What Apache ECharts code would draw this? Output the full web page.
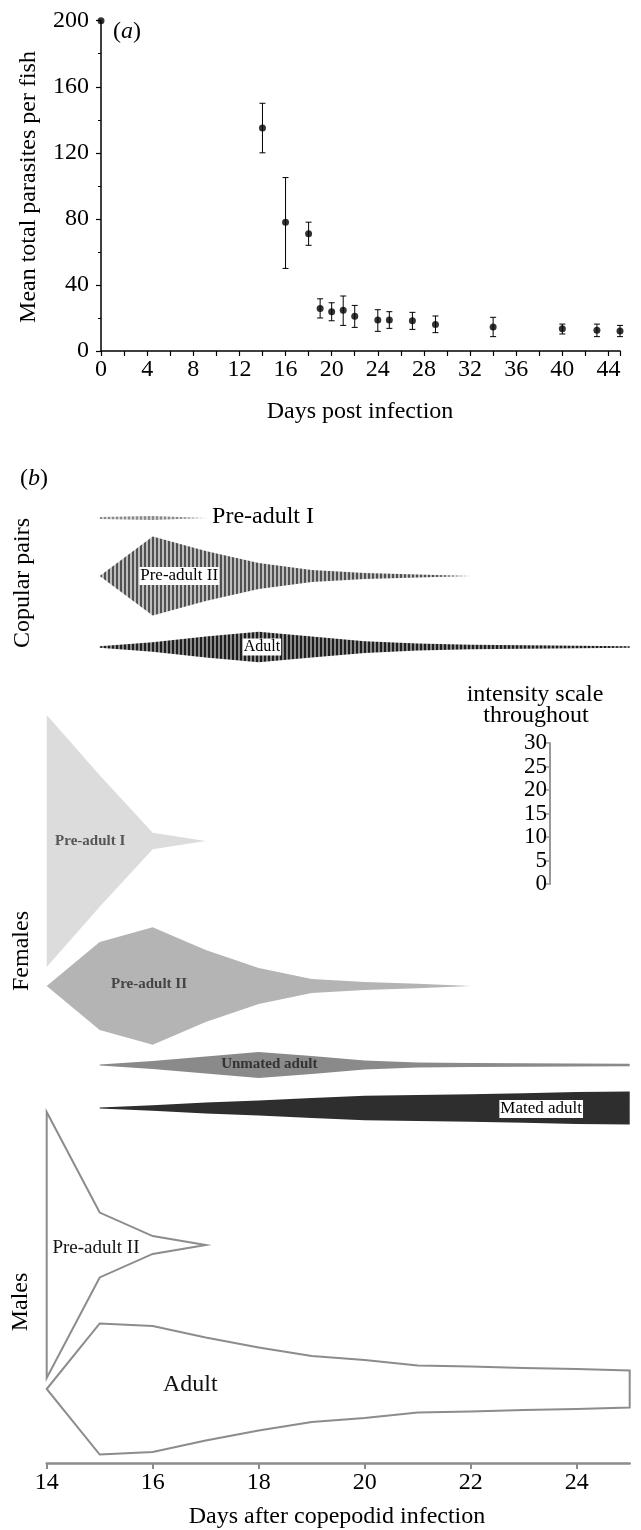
<!DOCTYPE html>
<html><head><meta charset="utf-8">
<script src="https://cdn.jsdelivr.net/npm/echarts@6/dist/echarts.min.js"></script>
<style>html,body{margin:0;padding:0;background:#fff}#c{width:641px;height:1530px}</style>
</head><body><div id="c"></div>
<script>
// ---------- Panel (a) data ----------
const daysA  = [0, 14, 16, 18, 19, 20, 21, 22, 24, 25, 27, 29, 34, 40, 43, 45];
const meanA  = [200, 135, 78, 71, 25.8, 23.8, 24.6, 21, 18.8, 18.8, 18.3, 16.1, 14.5, 13.5, 12.5, 12.1];
const lowA   = [null, 120, 50, 64, 20, 18.3, 15.5, 14.3, 11.9, 13.7, 13.1, 11.1, 8.7, 10.3, 8.7, 8.7];
const highA  = [null, 150, 105, 78, 31.6, 29.2, 33.3, 27.6, 25, 23.8, 23.4, 21.2, 20.4, 16.3, 16.3, 15.5];
const xLabelsA = [0, 4, 8, 12, 16, 20, 24, 28, 32, 36, 40, 44];
const yLabelsA = [0, 40, 80, 120, 160, 200];

// ---------- Panel (b) data (kite widths, intensity) ----------
const daysB      = [14, 15, 16, 17, 18, 19, 20, 21, 22, 23, 24, 25];
const copPreI    = [null, 0.4, 0.8, 0, null, null, null, null, null, null, null, null];
const copPreII   = [null, 0, 16.8, 10.6, 5.5, 2.6, 1.3, 0.6, 0, null, null, null];
const copAdult   = [null, 0.3, 2, 4.5, 6.5, 4.5, 2.5, 1.5, 1, 0.7, 0.5, 0.3];
const femPreI    = [53.6, 28, 3.5, 0, null, null, null, null, null, null, null, null];
const femPreII   = [0, 18.7, 25, 15.3, 7.7, 3, 1.7, 1, 0, null, null, null];
const femUnmated = [null, 0.2, 1.7, 3.6, 5.5, 3.8, 1.9, 1.1, 0.85, 0.75, 0.65, 0.5];
const femMated   = [null, 0.2, 1.2, 2.3, 3.2, 4.3, 5.2, 5.5, 5.8, 6.3, 6.8, 7.0];
const malePreII  = [56.6, 13.8, 3.8, 0, null, null, null, null, null, null, null, null];
const maleAdult  = [0, 27.9, 26.8, 21.9, 17.7, 14, 12.3, 10, 9.6, 8.9, 8.5, 7.9];
const xLabelsB   = [14, 16, 18, 20, 22, 24];
const scaleTicks = [0, 5, 10, 15, 20, 25, 30];

// ---------- layout ----------
const FONT = "'Liberation Serif', 'DejaVu Serif', serif";
const P = 4.7; // px per intensity unit
const gA = {left: 101, top: 20.7, width: 519, height: 330.3};
const gB = {left: 46.7, top: 500, width: 583, height: 963};
const gS = {left: 550, top: 743, width: 10, height: 30 * P};
const toU = px => (px - gB.top) / P;

function stripes(dark, light) {
  const c = document.createElement('canvas');
  c.width = 4; c.height = 4;
  const x = c.getContext('2d');
  x.fillStyle = light; x.fillRect(0, 0, 4, 4);
  x.fillStyle = dark; x.fillRect(0, 0, 2, 4);
  return {image: c, repeat: 'repeat'};
}
const stripeMid = stripes('#505050', '#bdbdbd');
const stripeDark = stripes('#1e1e1e', '#8a8a8a');
const stripeLight = stripes('#8a8a8a', '#d0d0d0');

const kites = [
  {vals: copPreI, cy: 518, fill: stripeLight, label: 'Pre-adult I', lx: 17.12, ly: 517, font: '24px ' + FONT, align: 'left'},
  {vals: copPreII, cy: 576, fill: stripeMid, label: 'Pre-adult II', lx: 16.5, ly: 576, font: '17px ' + FONT, box: true},
  {vals: copAdult, cy: 647, fill: stripeDark, label: 'Adult', lx: 18.06, ly: 647, font: '16px ' + FONT, box: true},
  {vals: femPreI, cy: 841, fill: '#dcdcdc', label: 'Pre-adult I', lx: 14.82, ly: 841, font: 'bold 15px ' + FONT, color: '#555'},
  {vals: femPreII, cy: 986, fill: '#b4b4b4', label: 'Pre-adult II', lx: 15.93, ly: 984, font: 'bold 15px ' + FONT, color: '#444'},
  {vals: femUnmated, cy: 1065, fill: '#8a8a8a', label: 'Unmated adult', lx: 18.2, ly: 1064, font: 'bold 15px ' + FONT, color: '#333'},
  {vals: femMated, cy: 1108, fill: '#2e2e2e', label: 'Mated adult', lx: 23.33, ly: 1109, font: '17px ' + FONT, box: true},
  {vals: malePreII, cy: 1245, fill: 'rgba(0,0,0,0)', stroke: '#8c8c8c', lw: 2, label: 'Pre-adult II', lx: 14.93, ly: 1248, font: '19px ' + FONT, color: '#111'},
  {vals: maleAdult, cy: 1389, fill: 'rgba(0,0,0,0)', stroke: '#8c8c8c', lw: 2, label: 'Adult', lx: 16.71, ly: 1385, font: '24px ' + FONT, color: '#111'}
];

function kiteRender(k) {
  return function (params, api) {
    const c = toU(k.cy);
    const up = [], lo = [];
    daysB.forEach((d, i) => {
      const v = k.vals[i];
      if (v == null) return;
      up.push(api.coord([d, c - v / 2]));
      lo.push(api.coord([d, c + v / 2]));
    });
    const pts = up.concat(lo.reverse());
    const children = [{
      type: 'polygon', shape: {points: pts},
      style: {fill: k.fill, stroke: k.stroke || null, lineWidth: k.lw || 0, lineJoin: 'miter'}
    }];
    if (k.label) {
      const p = api.coord([k.lx, toU(k.ly)]);
      children.push({
        type: 'text', x: p[0], y: p[1],
        style: {
          text: k.label, fill: k.color || '#000', font: k.font,
          align: k.align || 'center', verticalAlign: 'middle',
          backgroundColor: k.box ? '#fff' : null, padding: k.box ? [1, 1, 0, 1] : 0
        }
      });
    }
    return {type: 'group', children};
  };
}

const chart = echarts.init(document.getElementById('c'), null, {renderer: 'canvas'});

const tickFont = {fontFamily: FONT, fontSize: 24, color: '#000'};

const series = [];
// error bars
series.push({
  type: 'custom', xAxisIndex: 0, yAxisIndex: 0, silent: true,
  data: daysA.map((d, i) => lowA[i] == null ? null : [d, lowA[i], highA[i]]).filter(Boolean),
  renderItem: (params, api) => {
    const x = api.value(0);
    const a = api.coord([x, api.value(1)]), b = api.coord([x, api.value(2)]);
    const w = 3, st = {stroke: '#000', lineWidth: 1};
    return {type: 'group', children: [
      {type: 'line', shape: {x1: a[0], y1: a[1], x2: b[0], y2: b[1]}, style: st},
      {type: 'line', shape: {x1: a[0] - w, y1: a[1], x2: a[0] + w, y2: a[1]}, style: st},
      {type: 'line', shape: {x1: b[0] - w, y1: b[1], x2: b[0] + w, y2: b[1]}, style: st}
    ]};
  }
});
series.push({
  type: 'scatter', xAxisIndex: 0, yAxisIndex: 0, symbol: 'circle', symbolSize: 7,
  itemStyle: {color: '#000'}, silent: true,
  data: daysA.map((d, i) => [d, meanA[i]])
});
kites.forEach(k => series.push({
  type: 'custom', xAxisIndex: 1, yAxisIndex: 1, silent: true, clip: false,
  data: [[14, 0]], renderItem: kiteRender(k)
}));
series.push({type: 'scatter', xAxisIndex: 2, yAxisIndex: 2, data: []});

const option = {
  animation: false,
  backgroundColor: '#fff',
  grid: [
    {left: gA.left, top: gA.top, width: gA.width, height: gA.height},
    {left: gB.left, top: gB.top, width: gB.width, height: gB.height},
    {left: gS.left, top: gS.top, width: gS.width, height: gS.height}
  ],
  xAxis: [
    {gridIndex: 0, type: 'value', min: 0, max: 45, interval: 2,
     axisLine: {onZero: false, lineStyle: {color: '#000', width: 1.5}},
     axisTick: {length: 5, lineStyle: {color: '#000', width: 1.2}},
     axisLabel: Object.assign({margin: 7, formatter: v => xLabelsA.includes(v) ? String(v) : ''}, tickFont),
     splitLine: {show: false}},
    {gridIndex: 1, type: 'value', min: 14, max: 25, interval: 2, position: 'bottom',
     axisLine: {onZero: false, lineStyle: {color: '#8c8c8c', width: 2.5}},
     axisTick: {length: 6, lineStyle: {color: '#8c8c8c', width: 2}},
     axisLabel: Object.assign({margin: 8, showMaxLabel: false, formatter: v => xLabelsB.includes(v) ? String(v) : ''}, tickFont),
     splitLine: {show: false}},
    {gridIndex: 2, type: 'value', show: false}
  ],
  yAxis: [
    {gridIndex: 0, type: 'value', min: 0, max: 200, interval: 40,
     axisLine: {show: true, onZero: false, lineStyle: {color: '#000', width: 1.5}},
     axisTick: {show: true, length: 5, lineStyle: {color: '#000', width: 1.2}},
     minorTick: {show: true, splitNumber: 2, length: 3, lineStyle: {color: '#000'}},
     axisLabel: Object.assign({margin: 12, formatter: v => yLabelsA.includes(v) ? String(v) : ''}, tickFont),
     splitLine: {show: false}},
    {gridIndex: 1, type: 'value', min: 0, max: gB.height / P, inverse: true, show: false},
    {gridIndex: 2, type: 'value', min: 0, max: 30, interval: 5, position: 'left',
     axisLine: {show: true, onZero: false, lineStyle: {color: '#999', width: 2}},
     axisTick: {show: true, length: 4, lineStyle: {color: '#999', width: 1.5}},
     axisLabel: Object.assign({margin: 3, formatter: v => scaleTicks.includes(v) ? String(v) : ''}, tickFont, {fontSize: 23}),
     splitLine: {show: false}}
  ],
  graphic: [
    {type: 'text', x: 29, y: 187, rotation: Math.PI / 2,
     style: {text: 'Mean total parasites per fish', font: '24px ' + FONT, fill: '#000', align: 'center', verticalAlign: 'middle'}},
    {type: 'text', x: 113, y: 32,
     style: {text: '{n|(}{i|a}{n|)}', fill: '#000', verticalAlign: 'middle',
             rich: {n: {font: '24px ' + FONT}, i: {font: 'italic 24px ' + FONT}}}},
    {type: 'text', x: 360, y: 412,
     style: {text: 'Days post infection', font: '24px ' + FONT, fill: '#000', align: 'center', verticalAlign: 'middle'}},
    {type: 'text', x: 20, y: 479,
     style: {text: '{n|(}{i|b}{n|)}', fill: '#000', verticalAlign: 'middle',
             rich: {n: {font: '24px ' + FONT}, i: {font: 'italic 24px ' + FONT}}}},
    {type: 'text', x: 23, y: 583, rotation: Math.PI / 2,
     style: {text: 'Copular pairs', font: '24px ' + FONT, fill: '#000', align: 'center', verticalAlign: 'middle'}},
    {type: 'text', x: 22, y: 951, rotation: Math.PI / 2,
     style: {text: 'Females', font: '24px ' + FONT, fill: '#000', align: 'center', verticalAlign: 'middle'}},
    {type: 'text', x: 21, y: 1302, rotation: Math.PI / 2,
     style: {text: 'Males', font: '24px ' + FONT, fill: '#000', align: 'center', verticalAlign: 'middle'}},
    {type: 'text', x: 535, y: 695,
     style: {text: 'intensity scale', font: '24px ' + FONT, fill: '#000', align: 'center', verticalAlign: 'middle'}},
    {type: 'text', x: 536, y: 716,
     style: {text: 'throughout', font: '24px ' + FONT, fill: '#000', align: 'center', verticalAlign: 'middle'}},
    {type: 'text', x: 337, y: 1517,
     style: {text: 'Days after copepodid infection', font: '24px ' + FONT, fill: '#000', align: 'center', verticalAlign: 'middle'}}
  ],
  series
};
chart.setOption(option);
</script></body></html>
